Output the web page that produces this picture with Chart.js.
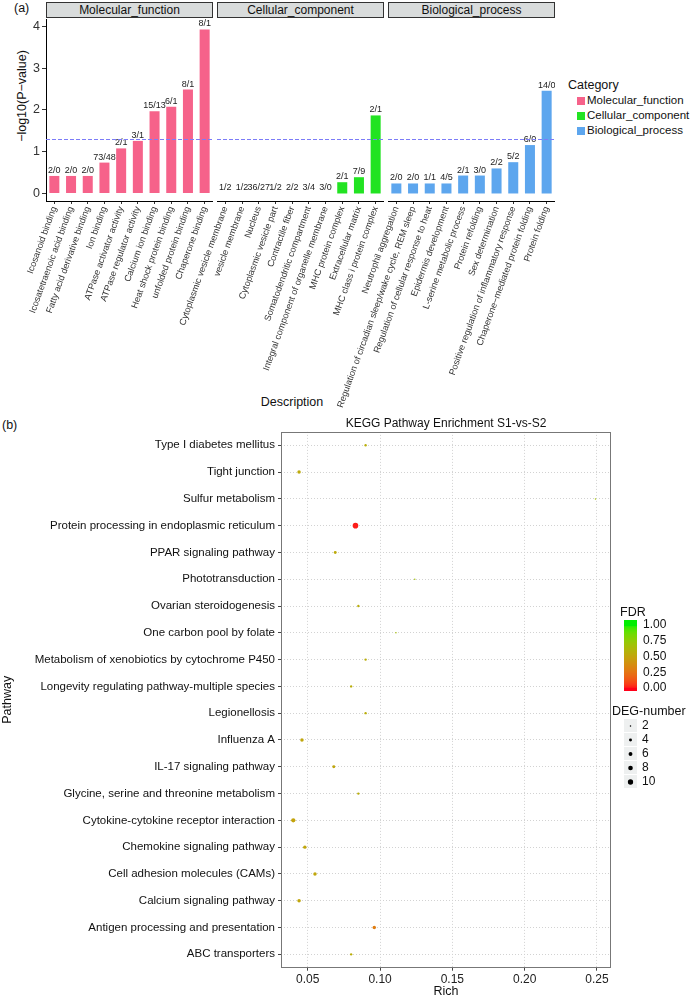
<!DOCTYPE html>
<html>
<head>
<meta charset="utf-8">
<script src="https://cdn.jsdelivr.net/npm/chart.js@4.4.1/dist/chart.umd.min.js"></script>
<style>
  body { margin: 0; background: #fff; }
  #page { position: relative; width: 692px; height: 999px; overflow: hidden;
          font-family: "Liberation Sans", Arial, sans-serif; color: #111; }
  .txt { position: absolute; white-space: nowrap; }
  .strip { position: absolute; top: 2px; height: 16px; background: #d9dcdc; border: 1px solid #333;
           box-sizing: border-box; font-size: 12px; line-height: 14px; text-align: center; }
  canvas { position: absolute; }
</style>
</head>
<body>
<div id="page">
  <div class="txt" style="left:14px;top:1px;font-size:12.5px">(a)</div>
  <div class="txt" style="left:2px;top:418px;font-size:12.5px">(b)</div>
  <div class="txt" style="left:22px;top:96px;font-size:12.5px;transform:translate(-50%,-50%) rotate(-90deg)">−log10(P−value)</div>
  <div class="txt" style="left:292px;top:402px;font-size:12.5px;transform:translate(-50%,-50%)">Description</div>
  <canvas id="mf"></canvas>
  <canvas id="cc"></canvas>
  <canvas id="bp"></canvas>
  <canvas id="kegg"></canvas>
</div>
<script>
// ---- (a) GO enrichment, one panel per category ----
const categoryNames = ["Molecular_function", "Cellular_component", "Biological_process"];
const categoryColors = ["#F6628A", "#22E322", "#5DA6EE"];

const mfTerms = ["Icosanoid binding", "Icosatetraenoic acid binding", "Fatty acid derivative binding", "Ion binding",
  "ATPase activator activity", "ATPase regulator activity", "Calcium ion binding", "Heat shock protein binding",
  "unfolded protein binding", "Chaperone binding"];
const mfLogP = [0.42, 0.42, 0.42, 0.74, 1.08, 1.26, 1.97, 2.08, 2.49, 3.93];
const mfCounts = ["2/0", "2/0", "2/0", "73/48", "2/1", "3/1", "15/13", "6/1", "8/1", "8/1"];

const ccTerms = ["Cytoplasmic vesicle membrane", "vesicle membrane", "Nucleus", "Cytoplasmic vesicle part",
  "Contractile fiber", "Somatodendritic compartment", "Integral component of organelle membrane",
  "MHC protein complex", "Extracellular matrix", "MHC class i protein complex"];
const ccLogP = [0, 0, 0, 0, 0, 0, 0, 0.27, 0.39, 1.87];
const ccCounts = ["1/2", "1/2", "36/27", "1/2", "2/2", "3/4", "3/0", "2/1", "7/9", "2/1"];

const bpTerms = ["Neutrophil aggregation", "Regulation of circadian sleep/wake cycle, REM sleep",
  "Regulation of cellular response to heat", "Epidermis development", "L-serine metabolic process",
  "Protein refolding", "Sex determination", "Positive regulation of inflammatory response",
  "Chaperone\u2212mediated protein folding", "Protein folding"];
const bpLogP = [0.24, 0.24, 0.24, 0.24, 0.43, 0.43, 0.60, 0.75, 1.16, 2.46];
const bpCounts = ["2/0", "2/0", "1/1", "4/5", "2/1", "3/0", "2/2", "5/2", "6/0", "14/0"];

const logPTicks = [0, 1, 2, 3, 4];
const pThreshold = -Math.log10(0.05);

// ---- (b) KEGG enrichment ----
const pathways = ["Type I diabetes mellitus", "Tight junction", "Sulfur metabolism",
  "Protein processing in endoplasmic reticulum", "PPAR signaling pathway", "Phototransduction",
  "Ovarian steroidogenesis", "One carbon pool by folate", "Metabolism of xenobiotics by cytochrome P450",
  "Longevity regulating pathway-multiple species", "Legionellosis", "Influenza A", "IL-17 signaling pathway",
  "Glycine, serine and threonine metabolism", "Cytokine-cytokine receptor interaction",
  "Chemokine signaling pathway", "Cell adhesion molecules (CAMs)", "Calcium signaling pathway",
  "Antigen processing and presentation", "ABC transporters"];
const rich = [0.090, 0.044, 0.249, 0.083, 0.069, 0.124, 0.085, 0.111, 0.090, 0.080,
  0.090, 0.046, 0.068, 0.085, 0.040, 0.048, 0.055, 0.044, 0.096, 0.080];
const degNumber = [3, 5, 2, 11, 4, 2, 3, 2, 3, 3, 3, 5, 4, 3, 7, 5, 5, 5, 5, 3];
const fdr = [0.56, 0.54, 0.68, 0.02, 0.54, 0.68, 0.56, 0.66, 0.56, 0.56,
  0.56, 0.52, 0.52, 0.56, 0.50, 0.52, 0.52, 0.52, 0.30, 0.56];
const richTicks = [0.05, 0.10, 0.15, 0.20, 0.25];
const fdrBreaks = [1, 0.75, 0.5, 0.25, 0];
const degBreaks = [2, 4, 6, 8, 10];

const FONT = '"Liberation Sans", Arial, sans-serif';
Chart.defaults.font.family = FONT;
Chart.defaults.animation = false;

// strips and category legend
const page = document.getElementById("page");
const stripLeft = [46, 217, 388];
categoryNames.forEach((name, i) => {
  const s = document.createElement("div");
  s.className = "strip";
  s.style.left = stripLeft[i] + "px";
  s.style.width = "167px";
  s.textContent = name;
  page.appendChild(s);

  const key = document.createElement("div");
  key.style.cssText = `position:absolute;left:577px;top:${97 + i * 15}px;width:8px;height:8px;background:${categoryColors[i]}`;
  page.appendChild(key);
  const lab = document.createElement("div");
  lab.className = "txt";
  lab.style.cssText = `left:587px;top:${94 + i * 15}px;font-size:11.5px`;
  lab.textContent = name;
  page.appendChild(lab);
});
const legTitle = document.createElement("div");
legTitle.className = "txt";
legTitle.style.cssText = "left:568px;top:78px;font-size:12.5px";
legTitle.textContent = "Category";
page.appendChild(legTitle);

const barLabels = {
  id: "barLabels",
  afterDatasetsDraw(chart, args, opts) {
    const ctx = chart.ctx;
    ctx.save();
    ctx.font = "9px " + FONT;
    ctx.fillStyle = "#222";
    ctx.textAlign = "center";
    ctx.textBaseline = "bottom";
    chart.getDatasetMeta(0).data.forEach((bar, i) => ctx.fillText(opts.labels[i], bar.x, bar.y - 1));
    // significance line
    const y = Math.round(chart.scales.y.getPixelForValue(pThreshold)) + 0.5;
    ctx.strokeStyle = "#7c7cf8";
    ctx.setLineDash([4, 2]);
    ctx.lineWidth = 1;
    ctx.beginPath();
    ctx.moveTo(chart.chartArea.left, y);
    ctx.lineTo(chart.chartArea.right, y);
    ctx.stroke();
    ctx.restore();
  }
};

const facets = [
  { id: "mf", terms: mfTerms, values: mfLogP, counts: mfCounts, color: categoryColors[0], left: 0, axisW: 46, showY: true },
  { id: "cc", terms: ccTerms, values: ccLogP, counts: ccCounts, color: categoryColors[1], left: 127, axisW: 90, showY: false },
  { id: "bp", terms: bpTerms, values: bpLogP, counts: bpCounts, color: categoryColors[2], left: 298, axisW: 90, showY: false }
];

facets.forEach(f => {
  const canvas = document.getElementById(f.id);
  const w = f.axisW + 167, h = 182 + 215;
  canvas.width = w; canvas.height = h;
  canvas.style.left = f.left + "px"; canvas.style.top = "19px";
  canvas.style.width = w + "px"; canvas.style.height = h + "px";
  new Chart(canvas, {
    type: "bar",
    data: {
      labels: f.terms,
      datasets: [{ data: f.values, backgroundColor: f.color, barPercentage: 0.6, categoryPercentage: 1 }]
    },
    options: {
      responsive: false,
      layout: { padding: 0 },
      events: [],
      plugins: { legend: { display: false }, tooltip: { enabled: false }, barLabels: { labels: f.counts } },
      scales: {
        x: {
          offset: true,
          afterFit: s => { s.height = 215; s.paddingLeft = 0; s.paddingRight = 0; },
          ticks: { autoSkip: false, minRotation: 70, maxRotation: 70, padding: 1, color: "#333", font: { size: 9.1 } },
          grid: { drawOnChartArea: false, offset: false, tickLength: 3, tickColor: "#333" },
          border: { display: true, color: "#000", width: 1 }
        },
        y: {
          min: -0.18, max: 4.18,
          afterBuildTicks: s => { s.ticks = logPTicks.map(v => ({ value: v })); },
          afterFit: s => { s.width = f.axisW; s.paddingTop = 0; s.paddingBottom = 0; },
          ticks: { display: f.showY, color: "#333", padding: 2, font: { size: 12.5 } },
          grid: { display: f.showY, drawOnChartArea: false, tickLength: 4, tickColor: "#333" },
          border: { display: f.showY, color: "#000", width: 1 }
        }
      }
    },
    plugins: [barLabels]
  });
});

// ---- FDR colour: red -> green interpolated in Lab ----
const lin = c => (c /= 255) <= 0.04045 ? c / 12.92 : Math.pow((c + 0.055) / 1.055, 2.4);
const gam = c => 255 * (c <= 0.0031308 ? 12.92 * c : 1.055 * Math.pow(c, 1 / 2.4) - 0.055);
function toLab([r, g, b]) {
  r = lin(r); g = lin(g); b = lin(b);
  const x = (0.4124 * r + 0.3576 * g + 0.1805 * b) / 0.95047;
  const y = 0.2126 * r + 0.7152 * g + 0.0722 * b;
  const z = (0.0193 * r + 0.1192 * g + 0.9505 * b) / 1.08883;
  const f = t => t > 0.008856 ? Math.cbrt(t) : 7.787 * t + 16 / 116;
  return [116 * f(y) - 16, 500 * (f(x) - f(y)), 200 * (f(y) - f(z))];
}
function fromLab([L, a, bb]) {
  const fy = (L + 16) / 116, fx = fy + a / 500, fz = fy - bb / 200;
  const inv = t => t ** 3 > 0.008856 ? t ** 3 : (t - 16 / 116) / 7.787;
  const x = 0.95047 * inv(fx), y = inv(fy), z = 1.08883 * inv(fz);
  const rgb = [3.2406 * x - 1.5372 * y - 0.4986 * z, -0.9689 * x + 1.8758 * y + 0.0415 * z, 0.0557 * x - 0.2040 * y + 1.0570 * z];
  return rgb.map(c => Math.round(Math.min(255, Math.max(0, gam(Math.max(0, c))))));
}
const lowLab = toLab([255, 0, 25]), highLab = toLab([0, 238, 0]);
function fdrColor(t) {
  t = Math.min(1, Math.max(0, t));
  const c = fromLab(lowLab.map((v, i) => v + (highLab[i] - v) * t));
  return `rgb(${c[0]},${c[1]},${c[2]})`;
}
const degMin = Math.min(...degNumber), degMax = Math.max(...degNumber);
const R_MIN = 0.75, R_MAX = 2.8;
const dotRadius = v => Math.sqrt(R_MIN * R_MIN + (R_MAX * R_MAX - R_MIN * R_MIN) * Math.max(0, v - degMin) / (degMax - degMin));

const KTOP = 416;
const panelBorder = {
  id: "panelBorder",
  afterDraw(chart) {
    const { ctx, chartArea: a } = chart;
    ctx.save();
    ctx.strokeStyle = "#777";
    ctx.lineWidth = 1;
    ctx.strokeRect(Math.round(a.left) + 0.5, Math.round(a.top) + 0.5, Math.round(a.right - a.left) - 1, Math.round(a.bottom - a.top) - 1);
    ctx.restore();
  }
};
const keggLegend = {
  id: "keggLegend",
  afterDraw(chart) {
    const ctx = chart.ctx;
    const Y = v => v - KTOP;
    ctx.save();
    ctx.fillStyle = "#111";
    ctx.textAlign = "left";
    ctx.textBaseline = "middle";
    ctx.font = "12.5px " + FONT;
    ctx.fillText("FDR", 620, Y(613));
    for (let py = 620; py < 691; py++) {
      ctx.fillStyle = fdrColor((688 - py) / 63);
      ctx.fillRect(624, Y(py), 13, 1);
    }
    ctx.fillStyle = "#111";
    ctx.font = "12px " + FONT;
    fdrBreaks.forEach(b => ctx.fillText(b.toFixed(2), 643, Y(688 - b * 63)));

    ctx.font = "12.5px " + FONT;
    ctx.fillText("DEG-number", 612, Y(712));
    ctx.font = "12px " + FONT;
    degBreaks.forEach((b, i) => {
      const cy = 726 + i * 14;
      ctx.fillStyle = "#eef0f0";
      ctx.fillRect(624, Y(cy - 7), 13, 13);
      ctx.fillStyle = "#000";
      ctx.beginPath();
      ctx.arc(630.5, Y(cy), dotRadius(b), 0, Math.PI * 2);
      ctx.fill();
      ctx.fillStyle = "#111";
      ctx.fillText(String(b), 642, Y(cy));
    });
    ctx.restore();
  }
};

const kc = document.getElementById("kegg");
kc.width = 692; kc.height = 999 - KTOP;
kc.style.left = "0px"; kc.style.top = KTOP + "px";
kc.style.width = "692px"; kc.style.height = (999 - KTOP) + "px";
const gridStyle = { color: "#d2d2d2", tickColor: "#444", tickLength: 3, tickBorderDash: [] };
new Chart(kc, {
  type: "scatter",
  data: {
    datasets: [{
      data: pathways.map((p, i) => ({ x: rich[i], y: p })),
      pointRadius: c => dotRadius(degNumber[c.dataIndex]),
      pointBackgroundColor: c => fdrColor(fdr[c.dataIndex]),
      pointBorderWidth: 0
    }]
  },
  options: {
    responsive: false,
    events: [],
    layout: { padding: { right: 81 } },
    plugins: {
      legend: { display: false },
      tooltip: { enabled: false },
      title: {
        display: true, fullSize: false, text: "KEGG Pathway Enrichment S1-vs-S2",
        color: "#111", font: { size: 12, weight: "normal" }, padding: { top: 0, bottom: 1.5 }
      }
    },
    scales: {
      x: {
        type: "linear", min: 0.0315, max: 0.2597,
        afterBuildTicks: s => { s.ticks = richTicks.map(v => ({ value: v })); },
        afterFit: s => { s.height = 31.3; s.paddingLeft = 0; s.paddingRight = 0; },
        ticks: { callback: v => v.toFixed(2), color: "#222", padding: 2, font: { size: 12 } },
        grid: gridStyle,
        border: { display: false, dash: [1, 2] },
        title: { display: true, text: "Rich", color: "#111", font: { size: 12.5 }, padding: 0 }
      },
      y: {
        type: "category", labels: pathways, offset: true,
        afterFit: s => { s.width = 281; s.paddingTop = 0; s.paddingBottom = 0; },
        ticks: { autoSkip: false, color: "#111", padding: 3, font: { size: 11.5 } },
        grid: gridStyle,
        border: { display: false, dash: [1, 2] },
        title: { display: true, text: "Pathway", color: "#111", font: { size: 12.5 }, padding: 0 }
      }
    }
  },
  plugins: [panelBorder, keggLegend]
});
</script>
</body>
</html>
